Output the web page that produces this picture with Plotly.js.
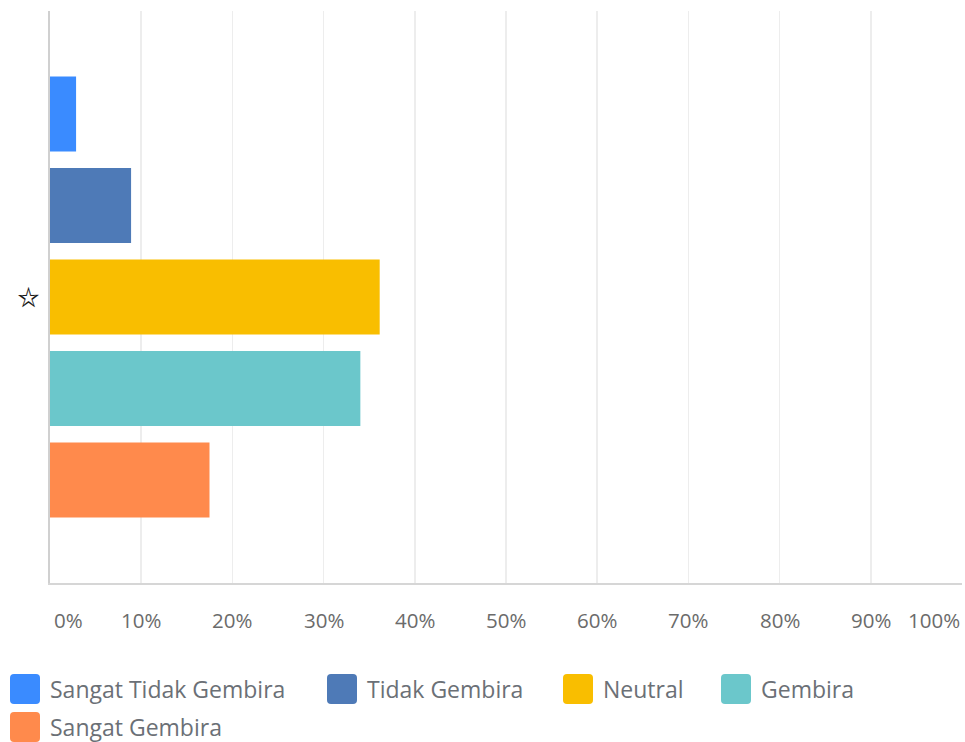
<!DOCTYPE html>
<html>
<head>
<meta charset="utf-8">
<script src="https://cdn.plot.ly/plotly-3.0.1.min.js"></script>
<style>
  html, body { margin: 0; padding: 0; background: #fff; }
  #chart { width: 965px; height: 742px; }
</style>
</head>
<body>
<div id="chart"></div>
<script>
// ---- data ----
const categories = ['☆'];
const seriesNames = ['Sangat Tidak Gembira', 'Tidak Gembira', 'Neutral', 'Gembira', 'Sangat Gembira'];
const seriesValues = [2.86, 8.89, 36.15, 34.03, 17.49];
const seriesColors = ['#3A8BFF', '#4E7AB7', '#F9BE00', '#6BC7CB', '#FF8A4C'];
const tickValues = [0, 10, 20, 30, 40, 50, 60, 70, 80, 90, 100];
const tickLabels = ['0%', '10%', '20%', '30%', '40%', '50%', '60%', '70%', '80%', '90%', '100%'];

// ---- layout helpers ----
const W = 965, H = 742;
const M = { l: 50, r: 3, t: 11, b: 159 };
const PW = W - M.l - M.r, PH = H - M.t - M.b;
const px2x = px => (px - M.l) / PW;
const py2y = py => (H - M.b - py) / PH;

const traces = seriesNames.map((name, i) => ({
  type: 'bar',
  orientation: 'h',
  name: name,
  y: categories,
  x: [seriesValues[i]],
  marker: { color: seriesColors[i], line: { width: 0 } },
  showlegend: false,
  hoverinfo: 'name+x'
}));

// tick labels (first and last aligned inward like the reference)
const annotations = tickValues.map((v, i) => ({
  xref: 'x', yref: 'paper', x: v, y: py2y(620),
  yanchor: 'middle',
  xanchor: i === 0 ? 'left' : (i === tickValues.length - 1 ? 'right' : 'center'),
  xshift: i === 0 ? 2 : 0,
  text: tickLabels[i], showarrow: false,
  font: { family: '"Open Sans", sans-serif', size: 20.5, color: '#6b6b6b' }
}));

// custom legend (large rounded swatches)
const legendPos = [[10, 689], [327, 689], [563, 689], [721, 689], [10, 727]];
const shapes = [];
const sw = 30, rad = 4;
seriesNames.forEach((name, i) => {
  const [lx, cy] = legendPos[i];
  const x0 = px2x(lx), x1 = px2x(lx + sw);
  const y0 = py2y(cy + sw / 2), y1 = py2y(cy - sw / 2);
  const rx = rad / PW, ry = rad / PH;
  const path = `M ${x0 + rx} ${y0} L ${x1 - rx} ${y0} Q ${x1} ${y0} ${x1} ${y0 + ry} ` +
               `L ${x1} ${y1 - ry} Q ${x1} ${y1} ${x1 - rx} ${y1} L ${x0 + rx} ${y1} ` +
               `Q ${x0} ${y1} ${x0} ${y1 - ry} L ${x0} ${y0 + ry} Q ${x0} ${y0} ${x0 + rx} ${y0} Z`;
  shapes.push({ type: 'path', xref: 'paper', yref: 'paper', path: path,
                fillcolor: seriesColors[i], line: { width: 0 } });
  annotations.push({
    xref: 'paper', yref: 'paper', x: px2x(lx + 38), y: py2y(cy),
    xanchor: 'left', yanchor: 'middle', showarrow: false, text: name,
    font: { family: '"Open Sans", sans-serif', size: 23, color: '#6b7076' }
  });
});

const layout = {
  width: W, height: H,
  margin: M,
  paper_bgcolor: '#ffffff', plot_bgcolor: '#ffffff',
  barmode: 'group',
  bargap: 0.2,
  bargroupgap: 0.18,
  showlegend: false,
  xaxis: {
    range: [0, 100],
    tickvals: tickValues,
    showticklabels: false,
    showgrid: true, gridcolor: '#ededed', gridwidth: 1.5,
    zeroline: false,
    showline: true, linecolor: '#d6d6d6', linewidth: 2,
    fixedrange: true
  },
  yaxis: {
    type: 'category',
    autorange: 'reversed',
    showgrid: false, zeroline: false,
    showline: true, linecolor: '#d0d0d0', linewidth: 2,
    ticks: 'outside', ticklen: 4, tickcolor: 'rgba(0,0,0,0)',
    tickfont: { family: '"Noto Sans CJK JP", "DejaVu Sans"', size: 22, color: '#1a1a1a', weight: 'bold' },
    fixedrange: true
  },
  shapes: shapes,
  annotations: annotations
};

Plotly.newPlot('chart', traces, layout, { displayModeBar: false, staticPlot: true });
</script>
</body>
</html>
